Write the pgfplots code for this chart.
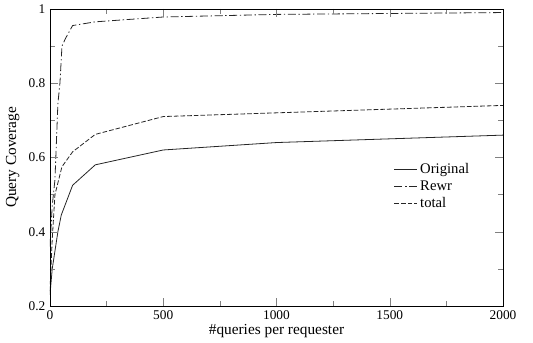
\documentclass[border=0pt]{standalone}
\usepackage{fontspec}
\setmainfont{Liberation Serif}
\usepackage{pgfplots}
\pgfplotsset{compat=1.18}
\begin{document}
\begin{tikzpicture}
\begin{axis}[
  name=ax,
  scale only axis,
  width=340pt, height=223pt,
  xmin=0, xmax=2000, ymin=0.2, ymax=1,
  xtick={0,500,1000,1500,2000},
  ytick={0.2,0.4,0.6,0.8,1},
  yticklabels={0.2,0.4,0.6,0.8,1},
  xticklabels={0,500,1000,1500,2000},
  minor xtick={250,750,1250,1750},
  minor ytick={0.3,0.5,0.7,0.9},
  major tick length=6pt,
  minor tick length=4pt,
  xticklabel style={font=\fontsize{10}{10}\selectfont},
  yticklabel style={font=\fontsize{10}{10}\selectfont},
  xlabel={\#queries per requester},
  ylabel={Query Coverage},
  label style={font=\fontsize{11.5}{12}\selectfont},
  xlabel style={yshift=3pt},
  legend style={draw=none, fill=none, at={(0.75,0.50)}, anchor=north west,
    font=\fontsize{11}{11}\selectfont, row sep=0pt},
  legend cell align=left,
]
\addplot[black!85, line width=0.6pt] coordinates {
(0,0.23) (10,0.30) (35,0.40) (50,0.445) (100,0.525) (200,0.58) (500,0.62) (1000,0.64) (2000,0.66)};
\addlegendentry{Original}
\addplot[black!85, line width=0.6pt, dash pattern=on 6pt off 2pt on 1pt off 2pt] coordinates {
(0,0.36) (10,0.47) (22,0.54) (35,0.745) (44,0.80) (53,0.90) (70,0.922) (100,0.955) (200,0.965) (500,0.978) (1000,0.985) (2000,0.99)};
\addlegendentry{Rewr}
\addplot[black!85, line width=0.6pt, dash pattern=on 3.5pt off 1.5pt] coordinates {
(0,0.24) (10,0.38) (22,0.50) (53,0.575) (100,0.615) (200,0.662) (500,0.71) (1000,0.72) (2000,0.74)};
\addlegendentry{total}
\end{axis}
\begin{axis}[
  at={(ax.south west)}, anchor=south west,
  scale only axis,
  width=340pt, height=223pt,
  xmin=0, xmax=2000, ymin=0.2, ymax=1,
  xtick={0,500,1000,1500,2000},
  ytick={0.2,0.4,0.6,0.8,1},
  minor xtick={250,750,1250,1750},
  minor ytick={0.3,0.5,0.7,0.9},
  xticklabels={}, yticklabels={},
  major tick length=6pt,
  minor tick length=4pt,
]
\addplot[draw=none] coordinates {(0,0.2) (2000,1)};
\end{axis}
\path[use as bounding box] ([xshift=-37.5pt,yshift=-24.75pt]ax.south west) rectangle ([xshift=22.5pt,yshift=6pt]ax.north east);
\end{tikzpicture}
\end{document}
